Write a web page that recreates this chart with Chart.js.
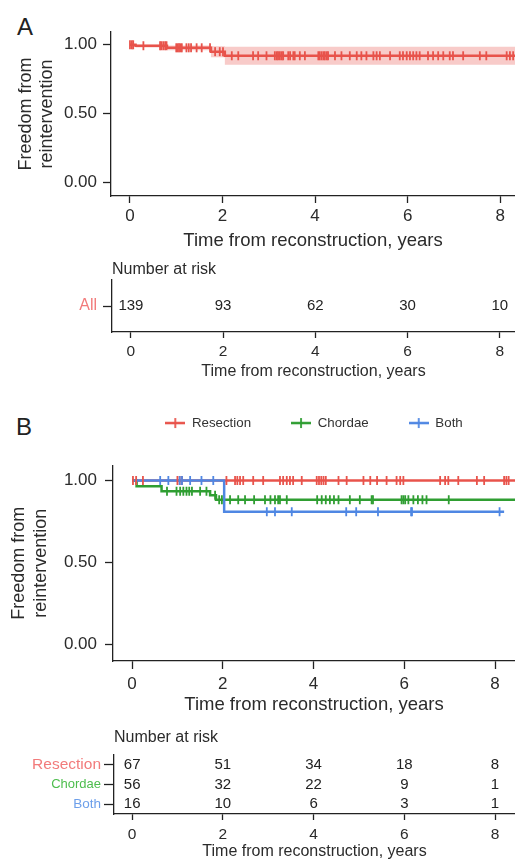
<!DOCTYPE html>
<html>
<head>
<meta charset="utf-8">
<script src="https://cdn.jsdelivr.net/npm/chart.js@4.4.1/dist/chart.umd.min.js"></script>
<style>
  html, body { margin: 0; padding: 0; background: #fff; width: 515px; height: 860px; overflow: hidden; }
  canvas { position: absolute; left: 0; }
  .tag { position: absolute; font: 24px "Liberation Sans", Arial, sans-serif; line-height: 24px; color: #222; }
</style>
</head>
<body>
<div class="tag" style="left:17px;top:15px">A</div>
<canvas id="km-a" width="515" height="250" style="top:0"></canvas>
<canvas id="risk-a" width="515" height="130" style="top:250px"></canvas>
<div class="tag" style="left:16px;top:415px">B</div>
<canvas id="km-b" width="515" height="324" style="top:390px"></canvas>
<canvas id="risk-b" width="515" height="145" style="top:715px"></canvas>

<script>
// Kaplan-Meier panels: freedom from reintervention

const xTicks = [0, 2, 4, 6, 8];
const yTicks = [0, 0.5, 1];
const yTickLabels = ["0.00", "0.50", "1.00"];
const xTitle = "Time from reconstruction, years";

// ---- panel A (all patients) ----
const allTimes = [0, 0.12, 0.8, 1.75, 2.05, 8.32];
const allSurv  = [1, 0.993, 0.978, 0.95, 0.92, 0.92];
const allUpper = [1, 1, 0.995, 0.99, 0.985, 0.985];
const allLower = [1, 0.98, 0.96, 0.91, 0.855, 0.855];
const allCensor = [0.0, 0.04, 0.07, 0.29, 0.65, 0.68, 0.72, 0.76, 0.79, 1.0, 1.03, 1.06, 1.09, 1.12,
  1.22, 1.27, 1.32, 1.44, 1.55, 1.73, 1.84, 1.94, 2.01, 2.2, 2.34, 2.66, 2.77, 2.95, 3.13, 3.17,
  3.2, 3.24, 3.28, 3.31, 3.42, 3.46, 3.53, 3.56, 3.67, 3.78, 4.07, 4.1, 4.14, 4.18, 4.21, 4.25,
  4.28, 4.43, 4.57, 4.75, 4.9, 5.0, 5.11, 5.26, 5.33, 5.4, 5.62, 5.83, 5.9, 5.98, 6.05, 6.12,
  6.19, 6.26, 6.44, 6.55, 6.66, 6.77, 6.91, 6.98, 7.2, 7.56, 7.7, 8.14, 8.21, 8.28];

const riskTimes = [0, 2, 4, 6, 8];
const riskAll = [139, 93, 62, 30, 10];

// ---- panel B (by technique) ----
const groups = ["Resection", "Chordae", "Both"];
const groupColors = ["#E8534B", "#2F9E32", "#4F87E3"];
const riskLabelColors = ["#F27B7B", "#4DBD4D", "#6D9FEA"];
const riskLabelSizes = [15.5, 13, 13.5];

const resTimes = [0, 8.44];
const resSurv  = [1, 1];
const choTimes = [0, 0.1, 0.65, 1.72, 1.85, 8.44];
const choSurv  = [1, 0.966, 0.935, 0.91, 0.883, 0.883];
const bothTimes = [0, 2.03, 8.2];
const bothSurv  = [1, 0.81, 0.81];

const resCensor = [0.02, 0.09, 0.24, 1.0, 1.05, 1.1, 2.08, 2.27, 2.32, 2.38, 2.45, 2.67, 2.89, 3.26,
  3.33, 3.41, 3.48, 3.55, 3.74, 4.07, 4.12, 4.17, 4.22, 4.27, 4.55, 4.73, 5.1, 5.25, 5.4, 5.61,
  5.83, 5.91, 5.98, 6.79, 6.9, 6.97, 7.19, 7.6, 7.76, 8.2, 8.25, 8.3];
const choCensor = [0.77, 0.98, 1.06, 1.13, 1.2, 1.26, 1.32, 1.5, 1.64, 1.83, 1.92, 1.98, 2.16, 2.34,
  2.49, 2.69, 2.93, 3.05, 3.15, 3.22, 3.26, 3.41, 4.08, 4.18, 4.27, 4.36, 4.45, 4.55, 4.8, 5.02,
  5.28, 5.31, 5.94, 5.98, 6.02, 6.09, 6.2, 6.3, 6.4, 6.49, 6.98];
const bothCensor = [0.62, 0.8, 1.05, 1.1, 1.28, 1.53, 1.79, 2.97, 3.15, 3.52, 4.72, 4.94, 5.42,
  6.15, 6.17, 8.1];

const riskResection = [67, 51, 34, 18, 8];
const riskChordae = [56, 32, 22, 9, 1];
const riskBoth = [16, 10, 6, 3, 1];

// ============= helpers =============

const INK = "#2b2b2b";
const AXIS = "#222";
Chart.defaults.font.family = '"Liberation Sans", Arial, sans-serif';
Chart.defaults.color = INK;

const steps = (times, surv) => times.map((t, i) => ({ x: t, y: surv[i] }));

function survAt(times, surv, t) {
  let s = surv[0];
  for (let i = 0; i < times.length; i++) if (times[i] <= t) s = surv[i];
  return s;
}
const censorPts = (times, surv, cens) => cens.map((t) => ({ x: t, y: survAt(times, surv, t) }));

function lineDs(data, color, width) {
  return { data, stepped: "before", borderColor: color, borderWidth: width, pointRadius: 0, fill: false };
}
function censorDs(data, color) {
  return {
    data, showLine: false, pointStyle: "line", rotation: 90, pointRadius: 4.5,
    pointBorderWidth: 1.8, pointBorderColor: color, pointBackgroundColor: color,
  };
}

function axisLook(tickLength) {
  return {
    grid: { drawOnChartArea: false, drawTicks: true, tickLength, tickColor: AXIS, tickWidth: 1.3, offset: false },
    border: { display: true, color: AXIS, width: 1.3 },
  };
}

function xAxis(min, max, height, tickLen, tickPad, tickSize, titleSize) {
  return {
    type: "linear", min, max, ...axisLook(tickLen),
    afterBuildTicks: (s) => { s.ticks = xTicks.map((v) => ({ value: v })); },
    afterFit: (s) => { s.height = height; },
    ticks: { color: INK, padding: tickPad, font: { size: tickSize }, maxRotation: 0, autoSkip: false },
    title: { display: true, text: xTitle, color: INK, font: { size: titleSize, lineHeight: 1 }, padding: { top: 0, bottom: 0 } },
  };
}

function kmY(width, tickPad, titlePad) {
  return {
    type: "linear", min: -0.1, max: 1.093, ...axisLook(8),
    afterBuildTicks: (s) => { s.ticks = yTicks.map((v) => ({ value: v })); },
    afterFit: (s) => { s.width = width; },
    ticks: { color: INK, padding: tickPad, font: { size: 17 }, callback: (v) => yTickLabels[yTicks.indexOf(v)] },
    title: {
      display: true, text: ["Freedom from", "reintervention"], color: INK,
      font: { size: 18, lineHeight: 1.2 }, padding: { top: titlePad, bottom: 0 },
    },
  };
}

// keep title / legend over the plot panel, like ggplot does
const panelAlign = {
  id: "panelAlign",
  afterLayout(chart, args, opts) {
    const area = chart.chartArea;
    const tb = chart.titleBlock;
    if (tb && chart.options.plugins.title.display) tb.left = area.left;
    const lg = chart.legend;
    if (lg && chart.options.plugins.legend.display) {
      const shift = (area.left + area.right) / 2 - (lg.left + lg.right) / 2;
      lg.left += shift;
      lg.right += shift;
      lg.top += opts.legendDy || 0;
      lg.bottom += opts.legendDy || 0;
    }
  },
};

// numbers at risk, written where the library puts each point
const riskNumbers = {
  id: "riskNumbers",
  afterDatasetsDraw(chart) {
    const { ctx } = chart;
    ctx.save();
    ctx.font = '15px "Liberation Sans", Arial, sans-serif';
    ctx.fillStyle = AXIS;
    ctx.textAlign = "center";
    ctx.textBaseline = "middle";
    chart.data.datasets.forEach((ds, i) => {
      chart.getDatasetMeta(i).data.forEach((pt, j) => ctx.fillText(String(ds.counts[j]), pt.x, pt.y));
    });
    ctx.restore();
  },
};

function legendMark(color) {
  const c = document.createElement("canvas");
  c.width = 20; c.height = 12;
  const g = c.getContext("2d");
  g.strokeStyle = color;
  g.lineWidth = 2.5; g.beginPath(); g.moveTo(0, 6); g.lineTo(20, 6); g.stroke();
  g.lineWidth = 1.8; g.beginPath(); g.moveTo(10, 1); g.lineTo(10, 11); g.stroke();
  return c;
}

function riskChart(id, rows, rowColors, rowSizes, counts, o) {
  return new Chart(document.getElementById(id), {
    type: "scatter",
    data: {
      datasets: rows.map((r, i) => ({
        data: riskTimes.map((t) => ({ x: t, y: r })), counts: counts[i], pointRadius: 0,
      })),
    },
    options: {
      responsive: false, animation: false, devicePixelRatio: 1, events: [],
      layout: { padding: 0, autoPadding: false },
      plugins: {
        legend: { display: false }, tooltip: { enabled: false },
        title: {
          display: true, text: "Number at risk", align: "start", color: INK,
          font: { size: 16, weight: "normal", lineHeight: 1.2 }, padding: o.titlePad,
        },
      },
      scales: {
        x: xAxis(o.xmin, o.xmax, o.xHeight, 6, o.xTickPad, 15.5, 16),
        y: {
          type: "category", labels: rows, offset: true, ...axisLook(o.yTickLen),
          afterFit: (s) => { s.width = o.yWidth; },
          ticks: {
            padding: o.yTickPad, autoSkip: false,
            color: (c) => rowColors[c.index],
            font: (c) => ({ size: rowSizes[c.index] }),
          },
        },
      },
    },
    plugins: [panelAlign, riskNumbers],
  });
}

// ============= panel A =============

new Chart(document.getElementById("km-a"), {
  type: "line",
  data: {
    datasets: [
      censorDs(censorPts(allTimes, allSurv, allCensor), groupColors[0]),
      lineDs(steps(allTimes, allSurv), groupColors[0], 2.5),
      { ...lineDs(steps(allTimes, allUpper), "rgba(0,0,0,0)", 0), fill: "+1", backgroundColor: "rgba(232,83,75,0.3)" },
      lineDs(steps(allTimes, allLower), "rgba(0,0,0,0)", 0),
    ],
  },
  options: {
    responsive: false, animation: false, devicePixelRatio: 1, events: [],
    layout: { padding: { top: 32, left: 0, right: 0, bottom: 0 }, autoPadding: false },
    plugins: { legend: { display: false }, tooltip: { enabled: false } },
    scales: { x: xAxis(-0.41, 8.32, 54, 7, 3.3, 17, 18.5), y: kmY(111, 6, 15) },
  },
});

riskChart("risk-a", ["All"], ["#F27B7B"], [16], [riskAll], {
  xmin: -0.41, xmax: 8.33, xHeight: 48, xTickPad: 4.7,
  yWidth: 112, yTickLen: 9, yTickPad: 6,
  titlePad: { top: 10.4, bottom: 0.4 },
});

// ============= panel B =============

const curvesB = [
  [resTimes, resSurv, resCensor],
  [choTimes, choSurv, choCensor],
  [bothTimes, bothSurv, bothCensor],
];
const censorB = curvesB.map(([t, s, c], i) => censorDs(censorPts(t, s, c), groupColors[i]));
const linesB = curvesB.map(([t, s], i) => lineDs(steps(t, s), groupColors[i], 2.5));

new Chart(document.getElementById("km-b"), {
  type: "line",
  // index 0 is drawn on top: Both over Chordae over Resection, marks over lines
  data: { datasets: [...censorB.reverse(), ...linesB.reverse()] },
  options: {
    responsive: false, animation: false, devicePixelRatio: 1, events: [],
    layout: { padding: { top: 12, left: 0, right: 0, bottom: 0 }, autoPadding: false },
    plugins: {
      tooltip: { enabled: false },
      panelAlign: { legendDy: -25.6 },
      legend: {
        display: true, position: "top",
        labels: {
          usePointStyle: true, pointStyleWidth: 20, padding: 40, color: "#333",
          font: { size: 13.3 },
          generateLabels: () => groups.map((name, i) => ({
            text: name, pointStyle: legendMark(groupColors[i]), fillStyle: groupColors[i],
            strokeStyle: groupColors[i], lineWidth: 0, hidden: false, fontColor: "#333",
          })),
        },
      },
    },
    scales: { x: xAxis(-0.42, 8.44, 53, 8, 5.3, 17, 18.5), y: kmY(113, 8, 8.5) },
  },
  plugins: [panelAlign],
});

riskChart("risk-b", groups, riskLabelColors, riskLabelSizes, [riskResection, riskChordae, riskBoth], {
  xmin: -0.4, xmax: 8.44, xHeight: 46, xTickPad: 5.7,
  yWidth: 114, yTickLen: 10, yTickPad: 3,
  titlePad: { top: 13.4, bottom: 7.4 },
});
</script>
</body>
</html>
